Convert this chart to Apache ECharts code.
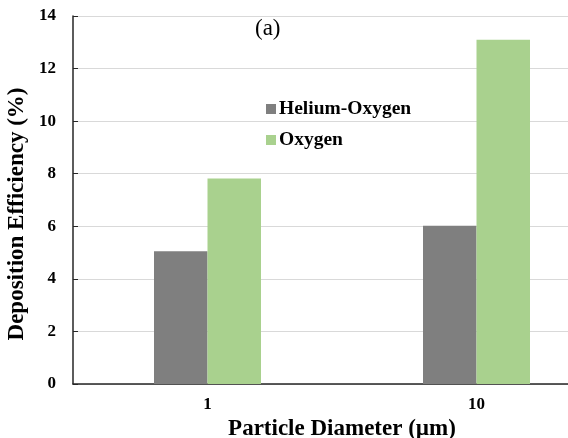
<!DOCTYPE html>
<html>
<head>
<meta charset="utf-8">
<script src="https://cdn.jsdelivr.net/npm/echarts@6/dist/echarts.min.js"></script>
<style>html,body{margin:0;padding:0;background:#fff;}#c{width:568px;height:438px;}</style>
</head>
<body>
<div id="c"></div>
<script>
const categories = ['1', '10'];
const heliumOxygen = [5.05, 6.02];
const oxygen = [7.82, 13.1];
const yTicks = [0, 2, 4, 6, 8, 10, 12, 14];

const FONT = '"Liberation Serif", "Times New Roman", serif';
const chart = echarts.init(document.getElementById('c'));
chart.setOption({
  animation: false,
  backgroundColor: '#fff',
  title: {
    text: '(a)',
    left: 250, top: 12,
    textStyle: { fontFamily: FONT, fontSize: 23, fontWeight: 'normal', color: '#000' }
  },
  legend: {
    orient: 'vertical',
    left: 261, top: 94,
    itemWidth: 10, itemHeight: 10, itemGap: 11,
    icon: 'rect',
    textStyle: { fontFamily: FONT, fontSize: 19.5, fontWeight: 'bold', color: '#000', padding: [0, 0, 0, -2] },
    data: ['Helium-Oxygen', 'Oxygen']
  },
  grid: { left: 73, top: 16, width: 538, bottom: 54, containLabel: false, outerBoundsMode: 'none' },
  xAxis: {
    type: 'category',
    data: categories,
    axisLine: { lineStyle: { color: '#262626', width: 1.5 } },
    axisTick: { show: false },
    axisLabel: { fontFamily: FONT, fontSize: 17, fontWeight: 'bold', color: '#000', margin: 12 },
    name: 'Particle Diameter (µm)',
    nameLocation: 'middle',
    nameGap: 30,
    nameTextStyle: { fontFamily: FONT, fontSize: 23, fontWeight: 'bold', color: '#000' }
  },
  yAxis: {
    type: 'value',
    min: yTicks[0], max: yTicks[yTicks.length - 1], interval: 2,
    axisLine: { show: true, lineStyle: { color: '#262626', width: 1.5 } },
    axisTick: { show: true, inside: true, length: 5, lineStyle: { color: '#262626' } },
    splitLine: { lineStyle: { color: '#d9d9d9', width: 1 } },
    axisLabel: { fontFamily: FONT, fontSize: 17, fontWeight: 'bold', color: '#000', margin: 17 },
    name: 'Deposition Efficiency (%)',
    nameLocation: 'middle',
    nameGap: 38,
    nameTextStyle: { fontFamily: FONT, fontSize: 23, fontWeight: 'bold', color: '#000', padding: [0, 28, 0, 0] }
  },
  series: [
    { name: 'Helium-Oxygen', type: 'bar', data: heliumOxygen, barWidth: 53.5, barGap: '0%', itemStyle: { color: '#7f7f7f' } },
    { name: 'Oxygen', type: 'bar', data: oxygen, barWidth: 53.5, barGap: '0%', itemStyle: { color: '#a9d18e' } }
  ]
});
</script>
</body>
</html>
